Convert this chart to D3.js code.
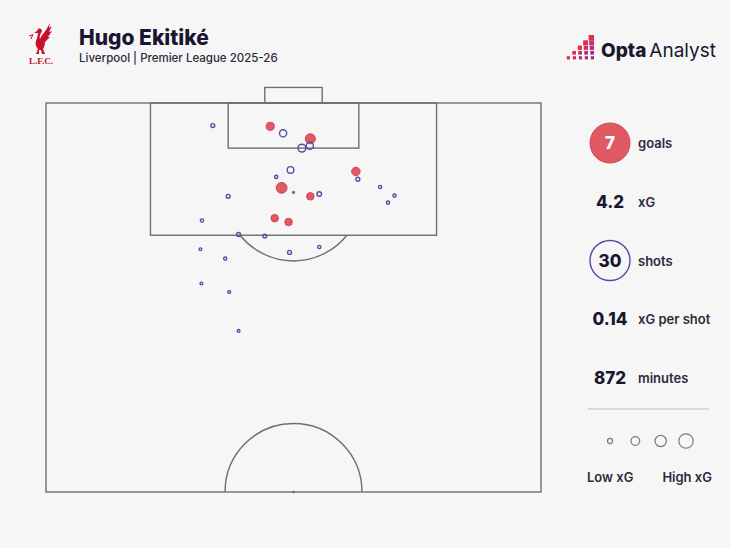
<!DOCTYPE html>
<html>
<head>
<meta charset="utf-8">
<script src="https://cdn.jsdelivr.net/npm/d3@7"></script>
<style>
  html, body { margin: 0; padding: 0; background: #f6f6f6; }
  svg { display: block; font-family: Inter, "Noto Sans", sans-serif; }
</style>
</head>
<body>
<svg id="chart" width="730" height="548"></svg>
<script>
// shots in Opta coordinates: x = along the pitch (100 = goal line), y = across
const shotX = [97.0, 95.4, 91.2, 89.1, 88.0, 85.2, 84.7,
  97.1, 96.1, 94.5, 94.2, 91.4, 90.5, 90.2, 89.2, 88.3, 88.1, 87.2, 88.0, 84.9,
  83.1, 82.9, 81.2, 80.0, 80.8, 81.5, 76.8, 75.7, 70.7];
const shotY = [45.3, 53.4, 62.6, 47.6, 53.4, 46.2, 49.0,
  33.7, 47.9, 53.3, 51.7, 49.4, 46.5, 63.0, 67.5, 55.2, 70.4, 69.1, 36.8, 31.5,
  38.9, 44.2, 31.2, 36.2, 49.2, 55.2, 31.4, 37.0, 38.9];
const shotXG = [0.26, 0.40, 0.28, 0.46, 0.22, 0.22, 0.22,
  0.06, 0.20, 0.20, 0.24, 0.17, 0.04, 0.06, 0.04, 0.08, 0.04, 0.04, 0.06, 0.04,
  0.06, 0.06, 0.03, 0.04, 0.06, 0.04, 0.03, 0.03, 0.03];
const shotGoal = [1, 1, 1, 1, 1, 1, 1,
  0, 0, 0, 0, 0, 0, 0, 0, 0, 0, 0, 0, 0,
  0, 0, 0, 0, 0, 0, 0, 0, 0];

const statValues = ["7", "4.2", "30", "0.14", "872"];
const statLabels = ["goals", "xG", "shots", "xG per shot", "minutes"];
const legendXG = [0.1, 0.3, 0.5, 0.8];

const shots = shotX.map((x, i) => ({ x, y: shotY[i], xg: shotXG[i], goal: shotGoal[i] === 1 }));

const svg = d3.select("#chart");
const lineCol = "#6f6f6f";
const ink = "#1b1630";

// pitch scales (attacking half, goal at the top)
const px = d3.scaleLinear().domain([0, 100]).range([46, 541]);
const py = d3.scaleLinear().domain([100, 50]).range([103, 492]);
const rScale = d3.scaleSqrt().domain([0, 1]).range([0, 8]);

const pitch = svg.append("g")
  .attr("fill", "none")
  .attr("stroke", lineCol)
  .attr("stroke-width", 1.4);

const box = (x0, x1, y0, y1) => pitch.append("rect")
  .attr("x", px(x0)).attr("y", py(y0))
  .attr("width", px(x1) - px(x0)).attr("height", py(y1) - py(y0));

box(0, 100, 100, 50);       // half pitch
box(21.1, 78.9, 100, 83);   // penalty area
box(36.8, 63.2, 100, 94.2); // six-yard box
box(44.2, 55.8, 102, 100);  // goal

// penalty arc and centre circle
const R = py(91.2) - py(100);
const spotY = py(88.5);
const a = Math.acos((py(83) - spotY) / R);
pitch.append("path")
  .attr("transform", `translate(${px(50)},${spotY})`)
  .attr("d", d3.arc()({ innerRadius: R, outerRadius: R, startAngle: Math.PI - a, endAngle: Math.PI + a }));
pitch.append("path")
  .attr("transform", `translate(${px(50)},${py(50)})`)
  .attr("d", d3.arc()({ innerRadius: R, outerRadius: R, startAngle: -Math.PI / 2, endAngle: Math.PI / 2 }));

svg.append("circle").attr("cx", px(50)).attr("cy", spotY).attr("r", 1.6).attr("fill", lineCol);
svg.append("circle").attr("cx", px(50)).attr("cy", py(50)).attr("r", 1.3).attr("fill", lineCol);

// shots: goals first, misses drawn as rings over them
svg.append("g").selectAll("circle")
  .data(shots.filter(d => d.goal))
  .join("circle")
  .attr("cx", d => px(d.y))
  .attr("cy", d => py(d.x))
  .attr("r", d => rScale(d.xg))
  .attr("fill", "#e05a63")
  .attr("stroke", "#cf4755")
  .attr("stroke-width", 1);

svg.append("g").selectAll("circle")
  .data(shots.filter(d => !d.goal))
  .join("circle")
  .attr("cx", d => px(d.y))
  .attr("cy", d => py(d.x))
  .attr("r", d => rScale(d.xg))
  .attr("fill", "none")
  .attr("stroke", "#5a4aa6")
  .attr("stroke-width", 1.4);

// header
svg.append("text")
  .attr("x", 79).attr("y", 45)
  .attr("font-size", 21).attr("font-weight", 800).attr("fill", ink)
  .text("Hugo Ekitiké");
svg.append("text")
  .attr("x", 79).attr("y", 62)
  .attr("font-size", 11.5).attr("font-weight", 500).attr("fill", "#2e2a3a")
  .text("Liverpool | Premier League 2025-26");

// club crest (rough liver bird)
const crest = svg.append("g").attr("transform", "translate(29,23)").attr("fill", "#c8102e");
crest.append("path")
  .attr("d", "M9 6 C11 5 13 6 13 8 L12 10 C11 12 10 14 11 16 C12 13 15 10 17 7 L21 0 L20 5 L23 3 L20 9 L23 8 L19 14 L21 14 L16 19 C16 22 15 24 14 26 L16 31 L13 31 L12 27 L10 27 L10 31 L7 31 L9 26 C7 24 6 21 7 18 C8 15 9 12 9 10 L5 10 L8 8 Z");
crest.append("path")
  .attr("d", "M4 11 L2 16 M3 12 L0 13")
  .attr("stroke", "#c8102e").attr("stroke-width", 1).attr("fill", "none");
crest.append("text")
  .attr("x", 12).attr("y", 41)
  .attr("text-anchor", "middle")
  .attr("font-family", "'Liberation Serif', serif")
  .attr("font-size", 9).attr("font-weight", 700)
  .text("L.F.C.");

// Opta Analyst logo
const logo = svg.append("g");
const sqCol = d3.interpolateRgb("#e2304c", "#8f2aa3");
d3.range(5).forEach(r => {
  d3.range(r + 1).forEach(c => {
    const s = 5.4 - r * 0.55;
    logo.append("rect")
      .attr("x", 594 - c * 6 - s)
      .attr("y", 35 + r * 5.3)
      .attr("width", s).attr("height", s)
      .attr("fill", sqCol(r === 0 ? 0 : (r - c) / 4));
  });
});
const logoText = logo.append("text")
  .attr("x", 601).attr("y", 57)
  .attr("font-size", 19).attr("fill", ink);
logoText.append("tspan").attr("font-weight", 800).text("Opta");
logoText.append("tspan").attr("font-weight", 400).attr("dx", 3).text("Analyst");

// stat panel
const rowY = d3.scalePoint().domain(statLabels).range([143, 378]);
const stats = svg.append("g");
stats.append("circle")
  .attr("cx", 610).attr("cy", rowY("goals")).attr("r", 20)
  .attr("fill", "#e05a63").attr("stroke", "#cf4755").attr("stroke-width", 1);
stats.append("circle")
  .attr("cx", 610).attr("cy", rowY("shots")).attr("r", 20)
  .attr("fill", "none").attr("stroke", "#5a4aa6").attr("stroke-width", 1.4);

stats.selectAll(".val")
  .data(statLabels)
  .join("text")
  .attr("class", "val")
  .attr("x", 610)
  .attr("y", d => rowY(d) + 6)
  .attr("text-anchor", "middle")
  .attr("font-size", 17).attr("font-weight", 800)
  .attr("fill", d => d === "goals" ? "#ffffff" : ink)
  .text((d, i) => statValues[i]);

stats.selectAll(".lab")
  .data(statLabels)
  .join("text")
  .attr("class", "lab")
  .attr("x", 638)
  .attr("y", d => rowY(d) + 5)
  .attr("font-size", 13).attr("font-weight", 600)
  .attr("fill", "#2e2a3a")
  .text(d => d);

stats.append("line")
  .attr("x1", 588).attr("x2", 709)
  .attr("y1", 409).attr("y2", 409)
  .attr("stroke", "#cfcfcf").attr("stroke-width", 1.5);

// size legend
const legX = d3.scalePoint().domain(legendXG).range([610, 686]);
stats.selectAll(".leg")
  .data(legendXG)
  .join("circle")
  .attr("class", "leg")
  .attr("cx", d => legX(d))
  .attr("cy", 441)
  .attr("r", d => rScale(d))
  .attr("fill", "none").attr("stroke", "#7a7a7a").attr("stroke-width", 1.2);

stats.append("text")
  .attr("x", 587).attr("y", 482)
  .attr("font-size", 13).attr("font-weight", 600).attr("fill", "#2e2a3a")
  .text("Low xG");
stats.append("text")
  .attr("x", 712).attr("y", 482)
  .attr("text-anchor", "end")
  .attr("font-size", 13).attr("font-weight", 600).attr("fill", "#2e2a3a")
  .text("High xG");
</script>
</body>
</html>
